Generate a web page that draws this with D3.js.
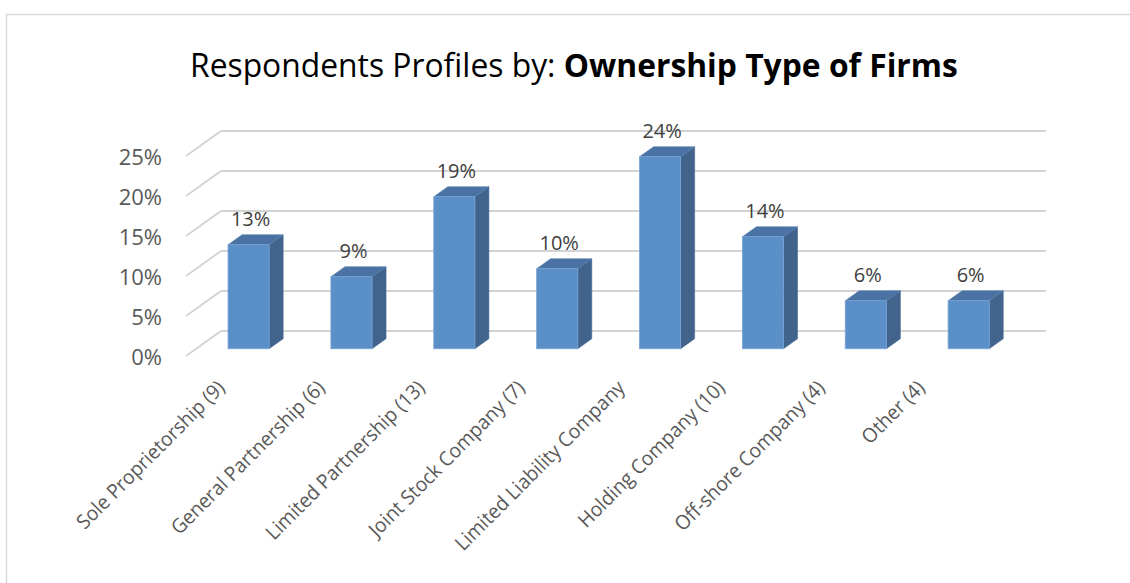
<!DOCTYPE html>
<html>
<head>
<meta charset="utf-8">
<script src="https://cdn.jsdelivr.net/npm/d3@7"></script>
<style>
  html, body { margin: 0; padding: 0; background: #fff; }
  svg { display: block; font-family: "Open Sans", "Noto Sans", sans-serif; }
</style>
</head>
<body>
<svg id="chart" width="1130" height="583"></svg>
<script>
// Ownership type of responding firms (share of respondents)
const categories = [
  "Sole Proprietorship (9)",
  "General Partnership (6)",
  "Limited Partnership (13)",
  "Joint Stock Company (7)",
  "Limited Liability Company",
  "Holding Company (10)",
  "Off-shore Company (4)",
  "Other (4)"
];
const shares = [0.13, 0.09, 0.19, 0.10, 0.24, 0.14, 0.06, 0.06];
const tickValues = [0, 0.05, 0.10, 0.15, 0.20, 0.25];
const tickLabels = ["0%", "5%", "10%", "15%", "20%", "25%"];
const titlePlain = "Respondents Profiles by: ";
const titleBold = "Ownership Type of Firms";

const W = 1130, H = 583;
const svg = d3.select("#chart");

// chart area frame
svg.append("rect")
  .attr("x", 6.5).attr("y", 14.5)
  .attr("width", W).attr("height", H)
  .attr("fill", "#fff").attr("stroke", "#d9d9d9").attr("stroke-width", 1.5);

// pseudo-3D geometry: front plane + depth vector toward the back wall
const floorLeft = 186, floorRight = 1011;
const depth = { dx: 35, dy: -25 };
const y = d3.scaleLinear().domain([0, 0.25]).range([356, 156]);
const x = d3.scaleBand().domain(categories)
  .range([floorLeft, floorRight])
  .paddingInner(0.6).paddingOuter(0.31);
const barFront = 0.29, barDepth = 0.4;

// anchor points for the slanted category labels
const labelX = d3.scalePoint().domain(categories).range([226, 926]);
const labelY = 389;

// walls: gridlines on the side wall and back wall
const grid = svg.append("g").attr("fill", "none");
grid.selectAll("path").data(tickValues).join("path")
  .attr("d", t => {
    const y0 = y(t);
    return `M${floorLeft},${y0}L${floorLeft + depth.dx},${y0 + depth.dy}L${floorRight + depth.dx},${y0 + depth.dy}`;
  })
  .attr("stroke", "#d3d3d3").attr("stroke-width", 1.8);

// value axis labels on the front plane
const axis = d3.axisLeft(y).tickValues(tickValues)
  .tickFormat((d, i) => tickLabels[i]).tickSize(0).tickPadding(24);
const axisG = svg.append("g").attr("transform", `translate(${floorLeft},0)`).call(axis);
axisG.select(".domain").remove();
axisG.selectAll("text")
  .attr("font-family", "\"Open Sans\", sans-serif")
  .attr("font-size", 22).attr("fill", "#595959").attr("dy", "0.38em");

// bars as boxes: front, top and right faces
const bw = x.bandwidth();
const ddx = depth.dx * barDepth, ddy = depth.dy * barDepth;
const bars = svg.append("g").selectAll("g").data(categories).join("g");
bars.each(function (c, i) {
  const g = d3.select(this);
  const x0 = x(c) + barFront * depth.dx;
  const base = y(0) + barFront * depth.dy;
  const top = y(shares[i]) + barFront * depth.dy;
  g.append("path")
    .attr("d", `M${x0 + bw},${top}L${x0 + bw + ddx},${top + ddy}L${x0 + bw + ddx},${base + ddy}L${x0 + bw},${base}Z`)
    .attr("fill", "#41638c").attr("stroke", "#4a6f9b").attr("stroke-width", 0.6);
  g.append("path")
    .attr("d", `M${x0},${top}L${x0 + bw},${top}L${x0 + bw + ddx},${top + ddy}L${x0 + ddx},${top + ddy}Z`)
    .attr("fill", "#4a72a2").attr("stroke", "#5580b3").attr("stroke-width", 0.6);
  g.append("rect")
    .attr("x", x0).attr("y", top).attr("width", bw).attr("height", base - top)
    .attr("fill", "#5b8fc7").attr("stroke", "#78a4d6").attr("stroke-width", 0.8);
  g.append("text")
    .attr("x", x0 + bw / 2 + 2).attr("y", top + ddy - 9)
    .attr("text-anchor", "middle")
    .attr("font-size", 20).attr("fill", "#404040")
    .text(Math.round(shares[i] * 100) + "%");
});

// category labels, rotated
svg.append("g").selectAll("text").data(categories).join("text")
  .attr("transform", c => `translate(${labelX(c)},${labelY}) rotate(-45) scale(0.96,1)`)
  .attr("text-anchor", "end")
  .attr("font-size", 20).attr("fill", "#595959")
  .text(c => c);

// title, fitted to its width
const title = svg.append("text")
  .attr("font-size", 33).attr("fill", "#000");
title.append("tspan").text(titlePlain);
title.append("tspan").attr("font-weight", "bold").text(titleBold);
const tw = title.node().getComputedTextLength();
const targetW = 768, cx = 574;
const sx = Math.min(1, targetW / tw);
title.attr("transform", `translate(${cx - targetW / 2},77) scale(${sx},1)`);
</script>
</body>
</html>
